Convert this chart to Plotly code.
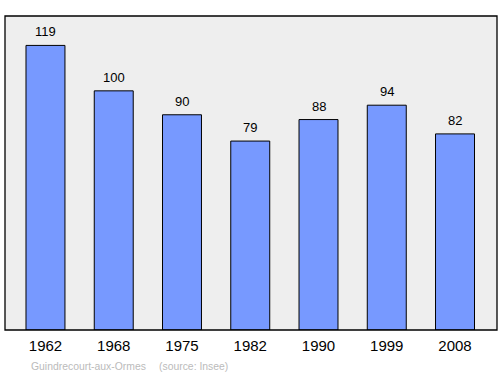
import plotly.graph_objects as go

years = ["1962", "1968", "1975", "1982", "1990", "1999", "2008"]
population = [119, 100, 90, 79, 88, 94, 82]
commune = "Guindrecourt-aux-Ormes"
source = "(source: Insee)"

xs = list(range(len(years)))

fig = go.Figure()
fig.add_trace(go.Bar(
    x=xs, y=population, width=0.571,
    marker=dict(color="#7799ff", line=dict(color="#000000", width=1)),
    hoverinfo="skip",
))
for x, v in zip(xs, population):
    fig.add_annotation(x=x, y=v, text=str(v), showarrow=False,
                       yanchor="bottom", yshift=4,
                       font=dict(family="Liberation Sans, Arial", size=13, color="#000000"))

fig.add_annotation(xref="paper", yref="paper", x=(29-5)/492, y=-(366-330)/314,
                   text=commune, showarrow=False,
                   xanchor="left", yanchor="middle",
                   font=dict(family="Liberation Sans, Arial", size=10.4, color="#bbbbbb"))
fig.add_annotation(xref="paper", yref="paper", x=(157-5)/492, y=-(366-330)/314,
                   text=source, showarrow=False,
                   xanchor="left", yanchor="middle",
                   font=dict(family="Liberation Sans, Arial", size=10.4, color="#bbbbbb"))

fig.add_shape(type="rect", xref="paper", yref="paper", x0=0, y0=0, x1=1, y1=1,
              line=dict(color="#000000", width=1.3), layer="above")

fig.update_layout(
    width=500, height=374,
    margin=dict(l=5, r=3, t=16, b=44),
    paper_bgcolor="#ffffff", plot_bgcolor="#eeeeee",
    showlegend=False,
    xaxis=dict(range=[-0.593, 6.615], tickvals=xs, ticktext=years,
               showgrid=False, zeroline=False, ticks="", ticklabelstandoff=5,
               tickfont=dict(family="Liberation Sans, Arial", size=15, color="#000000")),
    yaxis=dict(range=[0, 131.3], showgrid=False, zeroline=False,
               showticklabels=False, ticks=""),
)
fig.write_html("out.html")
